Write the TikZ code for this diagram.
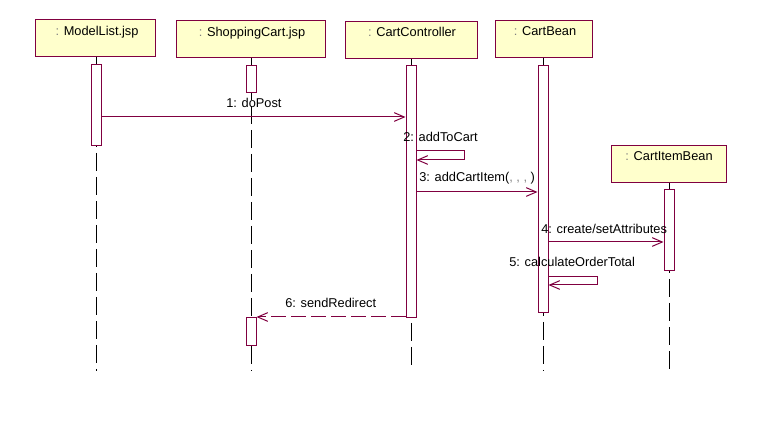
\documentclass[tikz,border=0pt]{standalone}
\usepackage{fontspec}
\setmainfont{Liberation Sans}
\usetikzlibrary{arrows.meta}
\definecolor{rose}{RGB}{128,0,64}
\definecolor{objfill}{RGB}{255,255,204}
\begin{document}
\begin{tikzpicture}[x=0.75pt,y=-0.75pt,
  font=\fontsize{9.6}{11}\selectfont,
  obj/.style={draw=rose,fill=objfill,line width=0.75pt,rectangle,inner sep=0pt,anchor=north west},
  act/.style={draw=rose,fill=white,line width=0.75pt,rectangle,inner sep=0pt,anchor=north,minimum width=7.5pt},
  life/.style={draw=black,line width=0.75pt,dash pattern=on 13.5pt off 4.5pt},
  msg/.style={draw=rose,line width=0.75pt,-{Straight Barb[length=7.5pt,width=6.5pt,line width=0.75pt]}},
  ret/.style={msg,dash pattern=on 11.25pt off 3.75pt},
  lbl/.style={anchor=base west,inner sep=0pt},
  otxt/.style={anchor=base,inner sep=0pt}]
\useasboundingbox (0,0) rectangle (761,427);
% object boxes
\node[obj,minimum width=90pt,minimum height=27.75pt] (ML) at (35,19) {};
\node[obj,minimum width=111.75pt,minimum height=27.75pt] (SC) at (176,20) {};
\node[obj,minimum width=99pt,minimum height=27.75pt] (CC) at (345,21) {};
\node[obj,minimum width=72.75pt,minimum height=27.75pt] (CB) at (495,20) {};
\node[obj,minimum width=86.25pt,minimum height=27.75pt] (CI) at (611,145) {};
\node[otxt] (tML) at (97,36) {{\color{gray}:} ModelList.jsp};
\node[otxt] (tSC) at (252,37) {{\color{gray}:} ShoppingCart.jsp};
\node[otxt] (tCC) at (412,37) {{\color{gray}:} CartController};
\node[otxt] (tCB) at (545,36) {{\color{gray}:} CartBean};
\node[otxt] (tCI) at (669,161) {{\color{gray}:} CartItemBean};
% lifeline ends
\coordinate (eML) at (96,371);
\coordinate (eSC) at (251,371);
\coordinate (eCC) at (411,371);
\coordinate (eCB) at (543,371);
\coordinate (eCI) at (669,374);
\draw[life] (ML.south -| eML) -- (eML);
\draw[life] (SC.south -| eSC) -- (eSC);
\draw[life] (CC.south -| eCC) -- (eCC);
\draw[life] (CB.south -| eCB) -- (eCB);
\draw[life] (CI.south -| eCI) -- (eCI);
% activations
\node[act,minimum height=60.75pt] (aML) at (96,64) {};
\node[act,minimum height=20.25pt] (aSC1) at (251,65) {};
\node[act,minimum height=21pt] (aSC2) at (251,317) {};
\node[act,minimum height=189pt] (aCC) at (411,65) {};
\node[act,minimum height=185.25pt] (aCB) at (543,65) {};
\node[act,minimum height=60.75pt] (aCI) at (669,189) {};
% message levels
\coordinate (y1) at (0,117);
\coordinate (y2a) at (464,151);
\coordinate (y2b) at (464,160);
\coordinate (y3) at (0,192);
\coordinate (y4) at (0,242);
\coordinate (y5a) at (597,277);
\coordinate (y5b) at (597,285);
\coordinate (y6) at (0,317);
\draw[msg] (aML.east |- y1) -- (aCC.west |- y1);
\draw[msg] (aCC.east |- y2a) -- (y2a) -- (y2b) -- (aCC.east |- y2b);
\draw[msg] (aCC.east |- y3) -- (aCB.west |- y3);
\draw[msg] (aCB.east |- y4) -- (aCI.west |- y4);
\draw[msg] (aCB.east |- y5a) -- (y5a) -- (y5b) -- (aCB.east |- y5b);
\draw[ret] (aCC.west |- y6) -- (aSC2.east |- y6);
% labels
\node[lbl] (l1) at (226,108) {1: doPost};
\node[lbl] (l2) at (403,142) {2: addToCart};
\node[lbl] (l3) at (419,182) {3: addCartItem({\color{gray}, , , })};
\node[lbl] (l4) at (541,234) {4: create/setAttributes};
\node[lbl] (l5) at (509,267) {5: calculateOrderTotal};
\node[lbl] (l6) at (285,308) {6: sendRedirect};
\end{tikzpicture}
\end{document}
